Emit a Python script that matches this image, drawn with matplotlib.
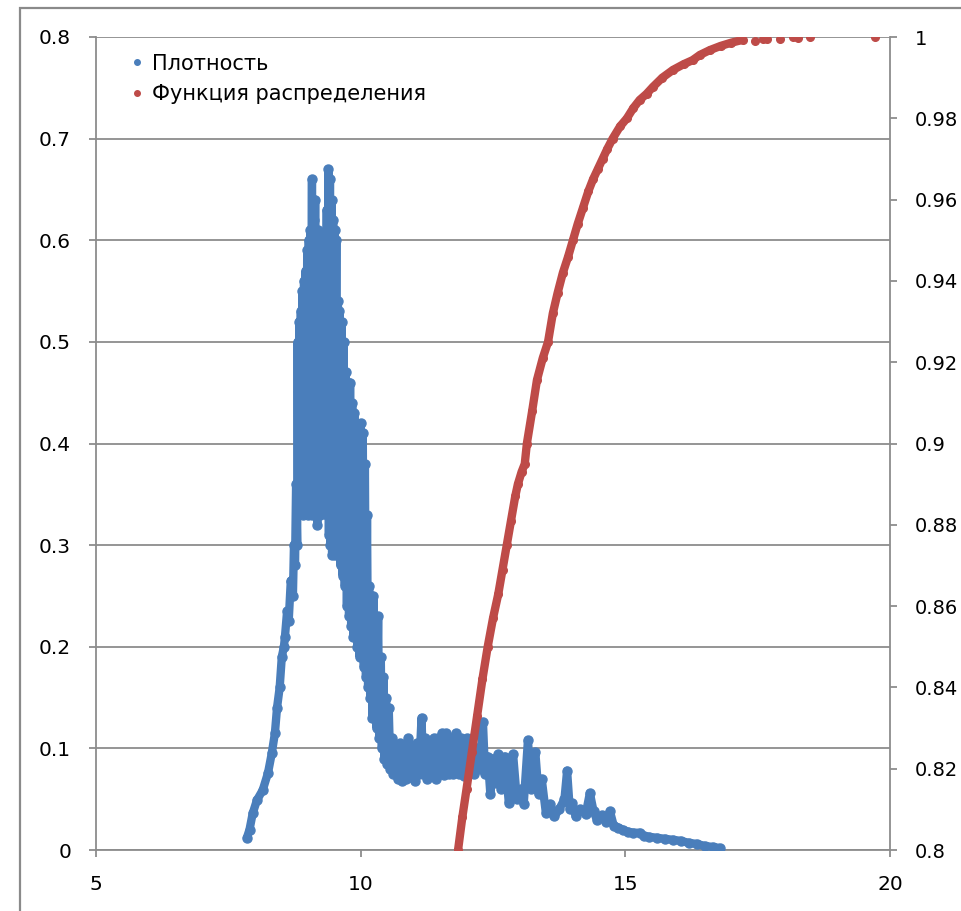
import numpy as np
import matplotlib
matplotlib.use("Agg")
from matplotlib import pyplot as plt
from matplotlib.lines import Line2D
from matplotlib.patches import Rectangle

# density (blue); zig-zag pairs follow the noisy band
dens_x = [7.85, 7.90, 7.96, 8.04, 8.15, 8.25, 8.32, 8.38, 8.42, 8.47, 8.51, 8.55,
          8.57, 8.61, 8.64, 8.68, 8.72, 8.74, 8.76, 8.78, 8.80,
          8.81, 8.82, 8.84, 8.85, 8.87, 8.88, 8.90, 8.91, 8.93, 8.94, 8.96, 8.97,
          8.99, 9.00, 9.02, 9.03, 9.05, 9.06, 9.08, 9.09, 9.11, 9.12, 9.14, 9.15,
          9.17, 9.18, 9.20, 9.21, 9.23, 9.24, 9.26, 9.27, 9.29, 9.30, 9.32, 9.33,
          9.34, 9.36, 9.37, 9.39, 9.40, 9.42, 9.43, 9.45, 9.46, 9.48, 9.49, 9.51,
          9.52, 9.54, 9.55, 9.57, 9.58,
          9.60, 9.62, 9.64, 9.66, 9.68, 9.70, 9.72, 9.74, 9.76, 9.78, 9.80, 9.82,
          9.84, 9.86, 9.88, 9.90, 9.92, 9.94, 9.96, 9.98, 10.00, 10.02, 10.04,
          10.06, 10.08, 10.10, 10.12, 10.14, 10.16, 10.18, 10.20, 10.22, 10.24,
          10.26, 10.28, 10.30, 10.33, 10.35, 10.38, 10.40, 10.43, 10.45, 10.48,
          10.50, 10.53, 10.56, 10.59, 10.62,
          10.66, 10.70, 10.74, 10.78, 10.82, 10.86, 10.90, 10.94, 10.98, 11.02,
          11.06, 11.10, 11.15, 11.18, 11.22, 11.26, 11.30, 11.34, 11.38, 11.42,
          11.46, 11.50, 11.54, 11.58, 11.62, 11.66, 11.70, 11.75, 11.80, 11.85,
          11.90, 11.95, 12.00, 12.05, 12.10, 12.15, 12.20, 12.25, 12.31, 12.35,
          12.40, 12.45, 12.50, 12.55, 12.60, 12.66, 12.72, 12.80, 12.88, 12.95,
          13.02, 13.08, 13.16, 13.22, 13.30, 13.36, 13.42, 13.50, 13.58, 13.66,
          13.75, 13.85, 13.90, 13.95, 14.00, 14.06, 14.15, 14.25, 14.33, 14.40,
          14.46, 14.55, 14.63, 14.71, 14.78, 14.87, 14.95, 15.05, 15.15, 15.27,
          15.35, 15.45, 15.60, 15.75, 15.90, 16.05, 16.20, 16.35, 16.50, 16.65,
          16.78]
dens_y = [0.012, 0.020, 0.036, 0.049, 0.059, 0.076, 0.095, 0.115, 0.140, 0.160, 0.190, 0.200,
          0.210, 0.235, 0.225, 0.265, 0.250, 0.300, 0.280, 0.360, 0.300,
          0.500, 0.340, 0.520, 0.360, 0.530, 0.340, 0.550, 0.330, 0.560, 0.350, 0.570, 0.340,
          0.590, 0.330, 0.600, 0.350, 0.610, 0.340, 0.660, 0.330, 0.620, 0.350, 0.640, 0.330,
          0.600, 0.320, 0.610, 0.340, 0.580, 0.330, 0.570, 0.350, 0.560, 0.340, 0.540, 0.350,
          0.360, 0.630, 0.330, 0.670, 0.310, 0.660, 0.300, 0.640, 0.290, 0.620, 0.300, 0.610,
          0.290, 0.600, 0.300, 0.540, 0.290,
          0.530, 0.280, 0.520, 0.270, 0.500, 0.260, 0.470, 0.240, 0.460, 0.230, 0.460, 0.220,
          0.440, 0.210, 0.430, 0.220, 0.410, 0.200, 0.400, 0.190, 0.420, 0.210, 0.410,
          0.180, 0.380, 0.170, 0.330, 0.160, 0.260, 0.150, 0.250, 0.130, 0.250,
          0.130, 0.220, 0.120, 0.230, 0.110, 0.190, 0.100, 0.170, 0.090, 0.150,
          0.085, 0.140, 0.080, 0.110, 0.075,
          0.100, 0.070, 0.105, 0.068, 0.100, 0.070, 0.110, 0.072, 0.100, 0.068,
          0.105, 0.075, 0.130, 0.075, 0.110, 0.070, 0.105, 0.075, 0.110, 0.070,
          0.110, 0.075, 0.115, 0.074, 0.115, 0.075, 0.110, 0.075, 0.115, 0.075,
          0.110, 0.073, 0.110, 0.078, 0.110, 0.075, 0.100, 0.080, 0.126, 0.075,
          0.092, 0.055, 0.090, 0.066, 0.094, 0.060, 0.092, 0.046, 0.094, 0.050,
          0.060, 0.045, 0.108, 0.060, 0.096, 0.055, 0.070, 0.036, 0.045, 0.033,
          0.040, 0.050, 0.078, 0.040, 0.046, 0.033, 0.040, 0.035, 0.056, 0.038,
          0.030, 0.034, 0.028, 0.038, 0.024, 0.022, 0.020, 0.018, 0.017, 0.017,
          0.014, 0.013, 0.012, 0.011, 0.010, 0.009, 0.007, 0.006, 0.004, 0.003,
          0.002]

# distribution function (red), right axis
cdf_x = [11.84, 11.92, 12.00, 12.10, 12.20, 12.30, 12.40, 12.50, 12.60, 12.68,
         12.76, 12.84, 12.92, 12.97, 13.04, 13.10, 13.14, 13.24, 13.33, 13.44,
         13.54, 13.63, 13.72, 13.82, 13.92, 14.01, 14.10, 14.20, 14.30, 14.39,
         14.48, 14.57, 14.66, 14.76, 14.90, 15.03, 15.15, 15.27, 15.40, 15.52,
         15.70, 15.90, 16.10, 16.27, 16.41, 16.60, 16.80, 17.00, 17.22,
         17.45, 17.60, 17.67, 17.92, 18.16, 18.26, 18.48, 19.71]
cdf_y = [0.800, 0.808, 0.815, 0.824, 0.833, 0.842, 0.850, 0.857, 0.863, 0.869,
         0.875, 0.881, 0.887, 0.890, 0.893, 0.895, 0.900, 0.908, 0.9156, 0.921,
         0.925, 0.932, 0.937, 0.942, 0.946, 0.950, 0.954, 0.958, 0.962, 0.965,
         0.9675, 0.970, 0.9725, 0.975, 0.978, 0.980, 0.9825, 0.9845, 0.986, 0.9877,
         0.990, 0.9919, 0.9933, 0.9943, 0.9956, 0.9968, 0.9978, 0.9986, 0.9993,
         0.9990, 0.9995, 0.9995, 0.9995, 1.000, 0.9998, 1.000, 1.000]

x_ticks = [5, 10, 15, 20]
left_ticks = [0, 0.1, 0.2, 0.3, 0.4, 0.5, 0.6, 0.7, 0.8]
right_ticks = [0.8, 0.82, 0.84, 0.86, 0.88, 0.9, 0.92, 0.94, 0.96, 0.98, 1.0]
names = ['Плотность', 'Функция распределения']

BLUE = '#4a7ebb'
RED = '#be4b48'
GRAY = '#8c8c8c'

plt.rcParams['font.family'] = ['DejaVu Sans']


def fmt(v):
    return ('%g' % v)


def main():
    fig = plt.figure(figsize=(9.62, 9.11), dpi=100)
    ax = fig.add_axes([96 / 962, 61 / 911, 794 / 962, 813 / 911])

    ax.plot(dens_x, dens_y, '-o', color=BLUE, lw=6, ms=6.5, zorder=3,
            solid_joinstyle='round', solid_capstyle='round')
    ax.set_xlim(5, 20)
    ax.set_ylim(0, 0.8)
    ax.set_xticks(x_ticks)
    ax.set_xticklabels([fmt(v) for v in x_ticks])
    ax.set_yticks(left_ticks)
    ax.set_yticklabels([fmt(v) for v in left_ticks])
    ax.yaxis.grid(True, color=GRAY, lw=1.3)
    ax.set_axisbelow(True)
    ax.tick_params(axis='y', direction='out', length=5, width=1.3, color=GRAY,
                   labelsize=14.5, pad=13)
    ax.tick_params(axis='x', direction='out', length=5, width=1.3, color=GRAY,
                   labelsize=14.5, pad=13)
    for s in ['left', 'bottom', 'right']:
        ax.spines[s].set_color(GRAY)
        ax.spines[s].set_linewidth(1.3)
    ax.spines['top'].set_visible(False)

    ax2 = ax.twinx()
    cx = np.array(cdf_x)
    cy = np.array(cdf_y)
    dense = cx < 17.3
    ax2.plot(cx[dense], cy[dense], '-', color=RED, lw=6, solid_capstyle='round',
             solid_joinstyle='round')
    ax2.plot(cx, cy, 'o', color=RED, ms=5.5)
    ax2.set_ylim(0.8, 1.0)
    ax2.set_yticks(right_ticks)
    ax2.set_yticklabels([fmt(v) for v in right_ticks])
    ax2.tick_params(axis='y', direction='out', length=5, width=1.3, color=GRAY,
                    labelsize=14, pad=13)
    for s in ax2.spines.values():
        s.set_visible(False)

    handles = [Line2D([], [], ls='none', marker='o', ms=4, color=BLUE),
               Line2D([], [], ls='none', marker='o', ms=4, color=RED)]
    ax.legend(handles, names, loc='upper left', bbox_to_anchor=(0.028, 0.995),
              frameon=False, fontsize=15, handlelength=0.6, handletextpad=0.4,
              labelspacing=0.5, borderaxespad=0.2)

    fig.add_artist(Rectangle((20 / 962, -0.1), 1.2, (911 - 8) / 911 + 0.1,
                             transform=fig.transFigure, fill=False,
                             edgecolor='#8a8a8a', lw=1.6))

    fig.savefig('out.png', dpi=100)


if __name__ == "__main__":
    main()
